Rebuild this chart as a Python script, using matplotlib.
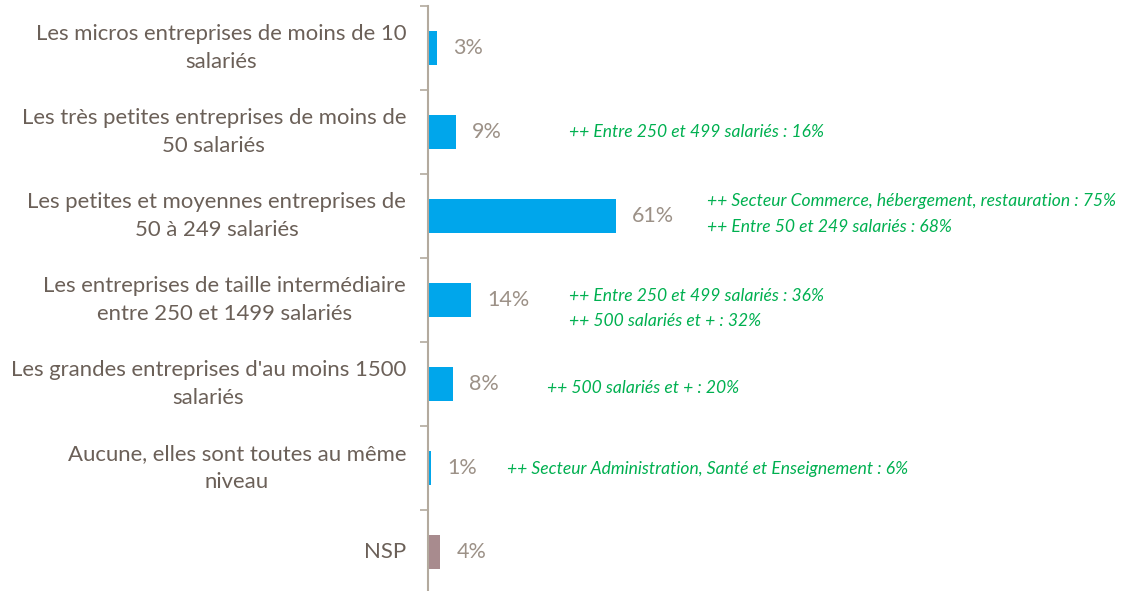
import matplotlib
matplotlib.use("Agg")
import matplotlib.pyplot as plt

plt.rcParams["font.family"] = ["Lato", "DejaVu Sans"]

categories = [
    "Les micros entreprises de moins de 10\nsalariés",
    "Les très petites entreprises de moins de\n50 salariés",
    "Les petites et moyennes entreprises de\n50 à 249 salariés",
    "Les entreprises de taille intermédiaire\nentre 250 et 1499 salariés",
    "Les grandes entreprises d'au moins 1500\nsalariés",
    "Aucune, elles sont toutes au même\nniveau",
    "NSP",
]
values = [3, 9, 61, 14, 8, 1, 4]
bar_colors = ["#00A6EB"] * 6 + ["#A88B8E"]

# green sub-group remarks next to each bar
notes = [
    [],
    ["++ Entre 250 et 499 salariés : 16%"],
    ["++ Secteur Commerce, hébergement, restauration : 75%",
     "++ Entre 50 et 249 salariés : 68%"],
    ["++ Entre 250 et 499 salariés : 36%",
     "++ 500 salariés et + : 32%"],
    ["++ 500 salariés et + : 20%"],
    ["++ Secteur Administration, Santé et Enseignement : 6%"],
    [],
]
note_x = [0, 45.8, 90.6, 45.8, 38.6, 25.6, 0]
# vertical offsets (in pixels, downward) of the note lines relative to bar centre
note_dy = [[], [0], [-15, 11], [-4, 21], [4], [1], []]

W, H = 1141, 591
fig = plt.figure(figsize=(W / 100, H / 100), dpi=100)
ax = fig.add_axes([428 / W, -3 / H, (W - 428) / W, 588 / H])

y = list(range(len(values)))
ax.barh(y, values, height=34 / 84, color=bar_colors)
ax.set_ylim(len(values) - 0.5, -0.5)
ax.set_xlim(0, 231.5)

for spine in ["top", "right", "bottom"]:
    ax.spines[spine].set_visible(False)
ax.spines["left"].set_color("#B3AA9E")
ax.spines["left"].set_linewidth(1.5)
ax.set_xticks([])
ax.set_yticks([i + 0.5 for i in range(-1, len(values))])
ax.set_yticklabels([])
ax.tick_params(axis="y", length=6, width=1.2, color="#B3AA9E")

for i, cat in enumerate(categories):
    ax.annotate(cat, (0, i), xytext=(-22, 0), textcoords="offset pixels",
                ha="right", va="center", multialignment="center",
                fontsize=15.9, color="#6B6058", linespacing=1.45)

for i, v in enumerate(values):
    ax.annotate(f"{v}%", (v, i), xytext=(16, 0), textcoords="offset pixels",
                ha="left", va="center", fontsize=15.5, color="#9C9187")

for i, lines in enumerate(notes):
    for line, dy in zip(lines, note_dy[i]):
        ax.annotate(line, (note_x[i], i), xytext=(0, -dy), textcoords="offset pixels",
                    ha="left", va="center", fontsize=12.6, style="italic",
                    color="#00B050")

fig.savefig("out.png", dpi=100)
